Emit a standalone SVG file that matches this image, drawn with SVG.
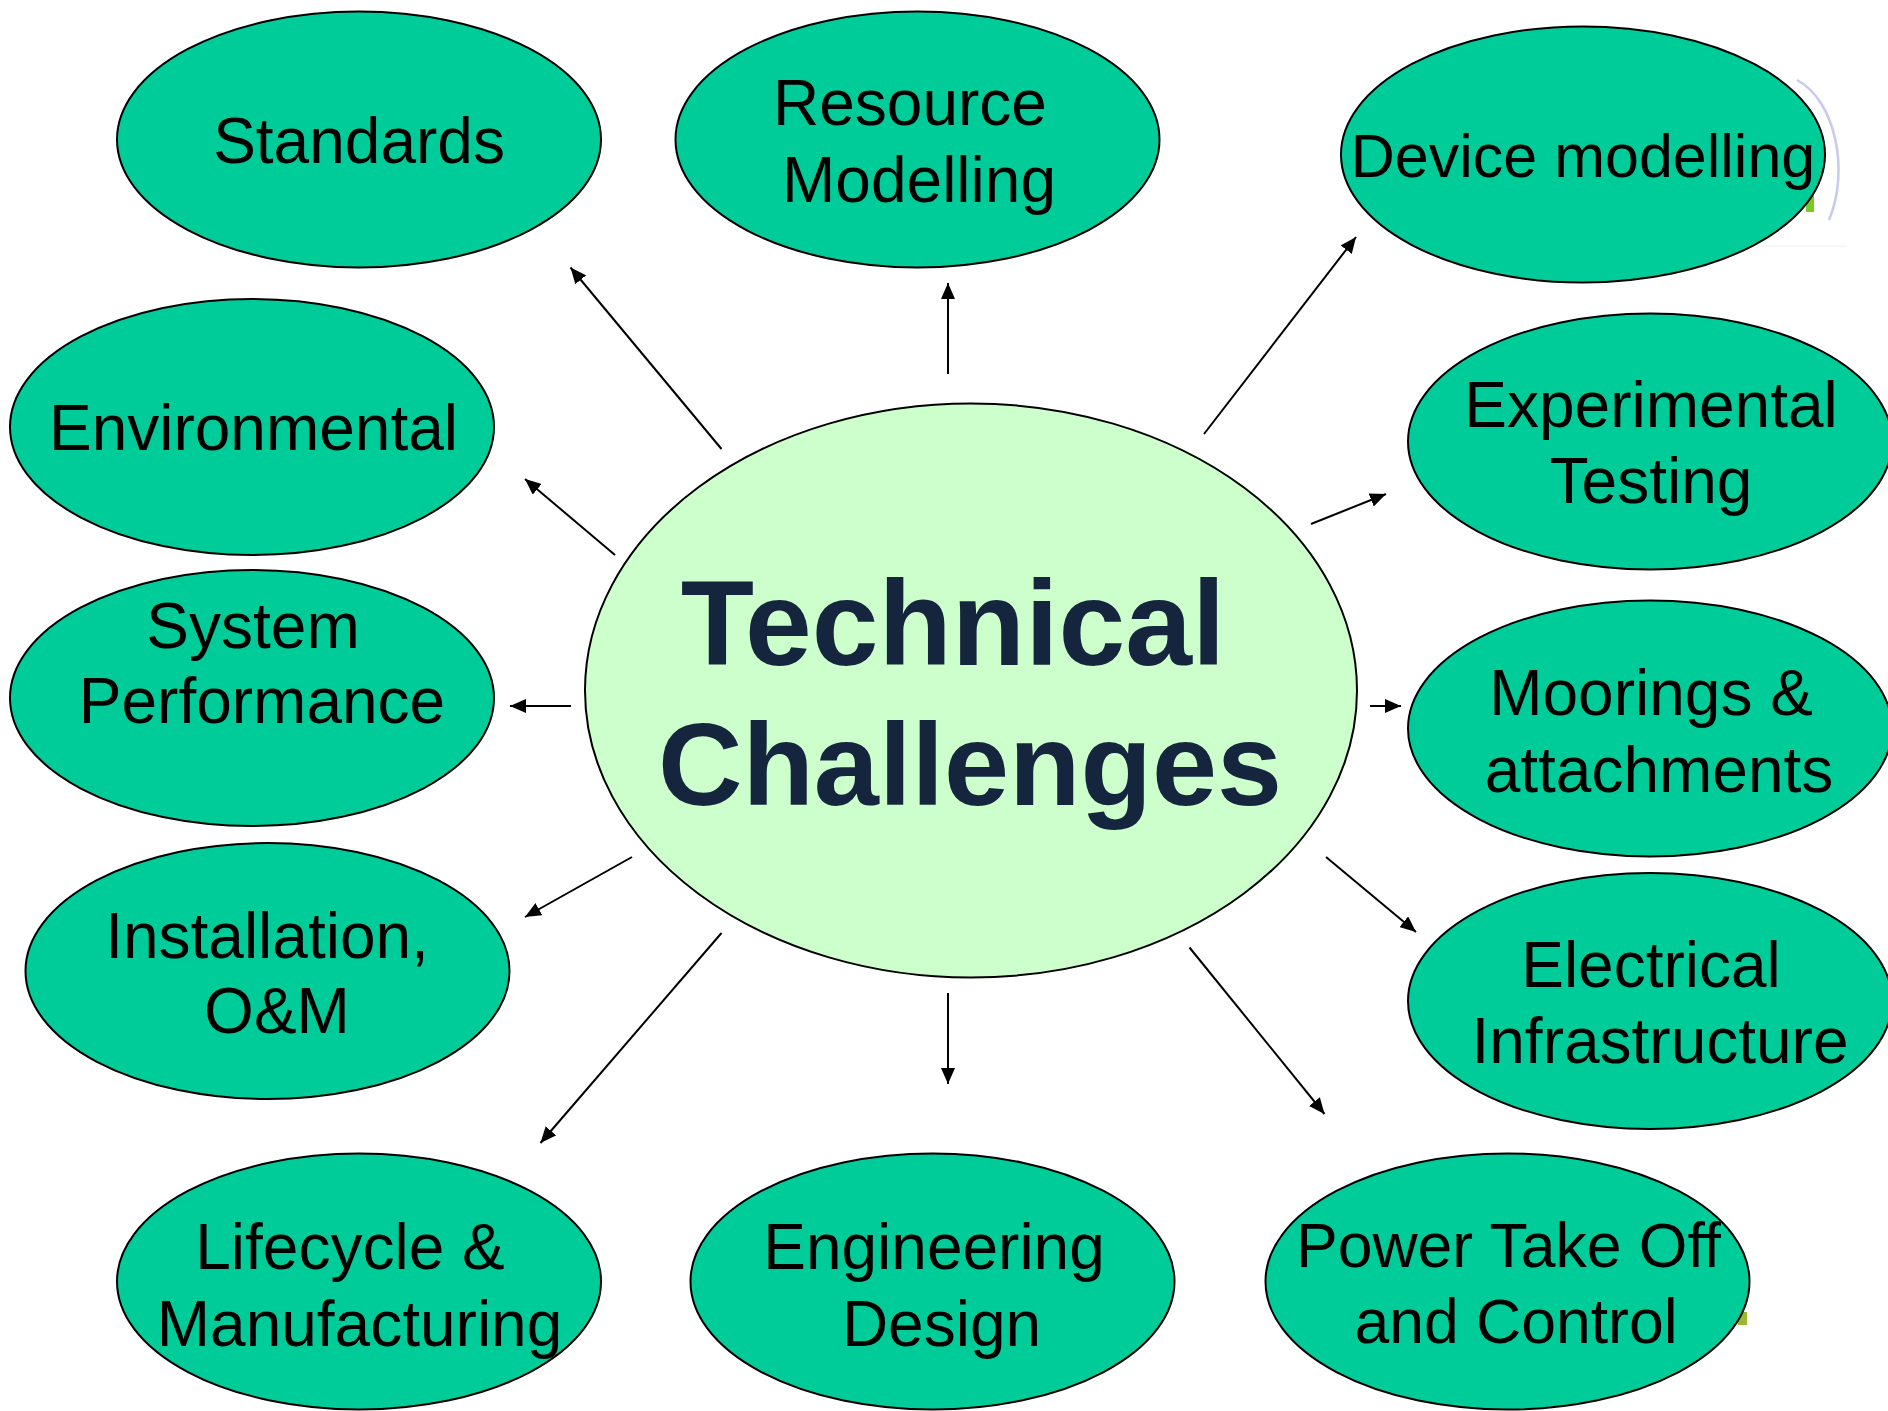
<svg xmlns="http://www.w3.org/2000/svg" width="1888" height="1411" viewBox="0 0 1888 1411">
<style>
.n{fill:#00cc99;stroke:#000;stroke-width:2}
.c{fill:#ccffcc;stroke:#000;stroke-width:2}
.t{font-family:"Liberation Sans",Arial,sans-serif;font-size:64px;fill:#000;text-anchor:middle}
.ct{font-family:"Liberation Sans",Arial,sans-serif;font-size:117px;font-weight:bold;fill:#14253d;text-anchor:middle}
.a{stroke:#000;stroke-width:2;fill:none;marker-end:url(#ah)}
</style>
<defs>
<marker id="ah" viewBox="0 0 16 14" markerWidth="16" markerHeight="14" refX="16" refY="7" orient="auto" markerUnits="userSpaceOnUse">
<path d="M0,0 L16,7 L0,14 z" fill="#000"/>
</marker>
</defs>
<rect width="1888" height="1411" fill="#fff"/>
<g id="artifacts">
<path d="M1797,80 C1835,100 1850,170 1829,220" fill="none" stroke="#bcbcea" stroke-width="2.5" opacity="0.8"/>
<line x1="1757" y1="246" x2="1847" y2="246" stroke="#eeeeee" stroke-width="1"/>
<rect x="1806" y="195" width="8" height="17" fill="#77cc22"/>
<rect x="1738" y="1312" width="9" height="13" fill="#99b833"/>
</g>
<g id="connectors">
<line class="a" x1="721.5" y1="449" x2="570.5" y2="267.5"/>
<line class="a" x1="948" y1="374" x2="948" y2="283"/>
<line class="a" x1="1204" y1="434" x2="1356" y2="237"/>
<line class="a" x1="615" y1="555" x2="525" y2="479"/>
<line class="a" x1="571" y1="706" x2="510" y2="706"/>
<line class="a" x1="632" y1="857" x2="525" y2="917"/>
<line class="a" x1="721.5" y1="933" x2="540.5" y2="1143"/>
<line class="a" x1="948" y1="993" x2="948" y2="1084"/>
<line class="a" x1="1189.5" y1="947.5" x2="1324.5" y2="1114"/>
<line class="a" x1="1326" y1="857" x2="1416" y2="932"/>
<line class="a" x1="1370" y1="706" x2="1401" y2="706"/>
<line class="a" x1="1311" y1="524" x2="1386" y2="494"/>
</g>
<g id="center">
<ellipse class="c" cx="971" cy="690.5" rx="386" ry="287"/>
<text class="ct" x="953" y="665" style="font-size:120px">Technical</text>
<text class="ct" x="970" y="805">Challenges</text>
</g>
<g id="standards">
<ellipse class="n" cx="359" cy="139.5" rx="242" ry="128"/>
<text class="t" x="359" y="163">Standards</text>
</g>
<g id="resource-modelling">
<ellipse class="n" cx="917.5" cy="139.5" rx="242" ry="128"/>
<text class="t" x="910" y="125">Resource</text>
<text class="t" x="919" y="202">Modelling</text>
</g>
<g id="device-modelling">
<ellipse class="n" cx="1583" cy="154.5" rx="242" ry="128"/>
<text class="t" x="1583" y="177" style="font-size:61px">Device modelling</text>
</g>
<g id="environmental">
<ellipse class="n" cx="252" cy="427" rx="242" ry="128"/>
<text class="t" x="253.5" y="450">Environmental</text>
</g>
<g id="experimental-testing">
<ellipse class="n" cx="1650" cy="441.5" rx="242" ry="128"/>
<text class="t" x="1651" y="427">Experimental</text>
<text class="t" x="1651" y="503">Testing</text>
</g>
<g id="system-performance">
<ellipse class="n" cx="252" cy="698" rx="242" ry="128"/>
<text class="t" x="253" y="648">System</text>
<text class="t" x="262" y="723">Performance</text>
</g>
<g id="moorings">
<ellipse class="n" cx="1650" cy="728.5" rx="242" ry="128"/>
<text class="t" x="1651" y="715">Moorings &amp;</text>
<text class="t" x="1659" y="792">attachments</text>
</g>
<g id="installation">
<ellipse class="n" cx="267.5" cy="971" rx="242" ry="128"/>
<text class="t" x="267" y="958">Installation,</text>
<text class="t" x="277" y="1033">O&amp;M</text>
</g>
<g id="electrical">
<ellipse class="n" cx="1650" cy="1001" rx="242" ry="128"/>
<text class="t" x="1651" y="987">Electrical</text>
<text class="t" x="1660" y="1063">Infrastructure</text>
</g>
<g id="lifecycle">
<ellipse class="n" cx="359" cy="1281.5" rx="242" ry="128"/>
<text class="t" x="350" y="1269">Lifecycle &amp;</text>
<text class="t" x="359.5" y="1346">Manufacturing</text>
</g>
<g id="engineering-design">
<ellipse class="n" cx="932.5" cy="1281.5" rx="242" ry="128"/>
<text class="t" x="934" y="1269">Engineering</text>
<text class="t" x="941.5" y="1346">Design</text>
</g>
<g id="power-take-off">
<ellipse class="n" cx="1507.5" cy="1281.5" rx="242" ry="128"/>
<text class="t" x="1508.5" y="1267" style="font-size:62.5px">Power Take Off</text>
<text class="t" x="1516" y="1343" style="font-size:62.5px">and Control</text>
</g>
</svg>
